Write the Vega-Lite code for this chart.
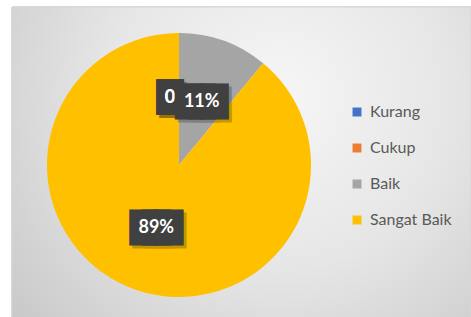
{
  "$schema": "https://vega.github.io/schema/vega-lite/v6.json",
  "width": 334,
  "height": 316,
  "autosize": {"type": "none"},
  "padding": {"left": 12, "top": 7, "right": 125, "bottom": 0},
  "background": "white",
  "config": {"view": {"stroke": null}, "font": "Lato"},
  "data": {"values": [
    {"kategori": "Kurang", "nilai": 0, "urutan": 1},
    {"kategori": "Cukup", "nilai": 0, "urutan": 2},
    {"kategori": "Baik", "nilai": 11, "urutan": 3},
    {"kategori": "Sangat Baik", "nilai": 89, "urutan": 4}
  ]},
  "transform": [
    {"stack": "nilai", "groupby": [], "sort": [{"field": "urutan", "order": "ascending"}], "as": ["t0", "t1"]},
    {"calculate": "(datum.t0 + datum.t1) / 2", "as": "tm"},
    {"calculate": "datum.nilai == 0 ? '0' : datum.nilai + '%'", "as": "label"}
  ],
  "layer": [
    {
      "mark": {
        "type": "rect",
        "x": 0,
        "y": 0,
        "x2": {"expr": "width + 125"},
        "y2": {"expr": "height"},
        "stroke": "#d6d6d6",
        "strokeWidth": 1,
        "fill": {
          "gradient": "radial",
          "x1": 0.58, "y1": 0.35, "r1": 0,
          "x2": 0.58, "y2": 0.35, "r2": 0.75,
          "stops": [
            {"offset": 0, "color": "#f6f6f6"},
            {"offset": 0.5, "color": "#e6e6e6"},
            {"offset": 1, "color": "#c9c9c9"}
          ]
        }
      },
      "encoding": {}
    },
    {
      "mark": {"type": "arc", "outerRadius": 132},
      "encoding": {
        "theta": {"field": "t0", "type": "quantitative", "stack": null, "scale": {"domain": [0, 100]}},
        "theta2": {"field": "t1"},
        "color": {
          "field": "kategori",
          "type": "nominal",
          "scale": {
            "domain": ["Kurang", "Cukup", "Baik", "Sangat Baik"],
            "range": ["#4472C4", "#ED7D31", "#A5A5A5", "#FFC000"]
          },
          "legend": {
            "orient": "none",
            "legendX": 337,
            "legendY": 97,
            "title": null,
            "symbolType": "square",
            "symbolSize": 80,
            "symbolStrokeWidth": 0,
            "labelFontSize": 16,
            "labelFont": "Lato",
            "labelColor": "#595959",
            "rowPadding": 20,
            "labelOffset": 5
          }
        }
      }
    },
    {
      "transform": [{"filter": "datum.nilai == 0"}],
      "mark": {"type": "text", "text": "█", "radius": 67, "dx": -6, "dy": 3, "fontSize": 20, "font": "DejaVu Sans", "baseline": "middle", "align": "center", "fill": "#000000", "stroke": "#000000", "strokeWidth": 12, "strokeJoin": "miter", "opacity": 0.22},
      "encoding": {"theta": {"field": "tm", "type": "quantitative", "stack": null}}
    },
    {
      "transform": [{"filter": "datum.nilai == 0"}],
      "mark": {"type": "text", "text": "█", "radius": 67, "dx": -9, "fontSize": 20, "font": "DejaVu Sans", "baseline": "middle", "align": "center", "fill": "#404040", "stroke": "#404040", "strokeWidth": 12, "strokeJoin": "miter"},
      "encoding": {"theta": {"field": "tm", "type": "quantitative", "stack": null}}
    },
    {
      "transform": [{"filter": "datum.nilai == 0"}],
      "mark": {"type": "text", "radius": 67, "dx": -9, "fontSize": 18, "fontWeight": "bold", "font": "Lato", "baseline": "middle", "align": "center", "fill": "#ffffff"},
      "encoding": {"theta": {"field": "tm", "type": "quantitative", "stack": null}, "text": {"field": "label"}}
    },
    {
      "transform": [{"filter": "datum.nilai > 0"}],
      "mark": {"type": "text", "text": "███", "radius": 67, "dx": 3, "dy": 3, "fontSize": 16, "font": "DejaVu Sans", "baseline": "middle", "align": "center", "fill": "#000000", "stroke": "#000000", "strokeWidth": 17, "strokeJoin": "miter", "opacity": 0.22},
      "encoding": {"theta": {"field": "tm", "type": "quantitative", "stack": null}}
    },
    {
      "transform": [{"filter": "datum.nilai > 0"}],
      "mark": {"type": "text", "text": "███", "radius": 67, "fontSize": 16, "font": "DejaVu Sans", "baseline": "middle", "align": "center", "fill": "#404040", "stroke": "#404040", "strokeWidth": 17, "strokeJoin": "miter"},
      "encoding": {"theta": {"field": "tm", "type": "quantitative", "stack": null}}
    },
    {
      "transform": [{"filter": "datum.nilai > 0"}],
      "mark": {"type": "text", "radius": 67, "fontSize": 18, "fontWeight": "bold", "font": "Lato", "baseline": "middle", "align": "center", "fill": "#ffffff"},
      "encoding": {"theta": {"field": "tm", "type": "quantitative", "stack": null}, "text": {"field": "label"}}
    }
  ]
}
